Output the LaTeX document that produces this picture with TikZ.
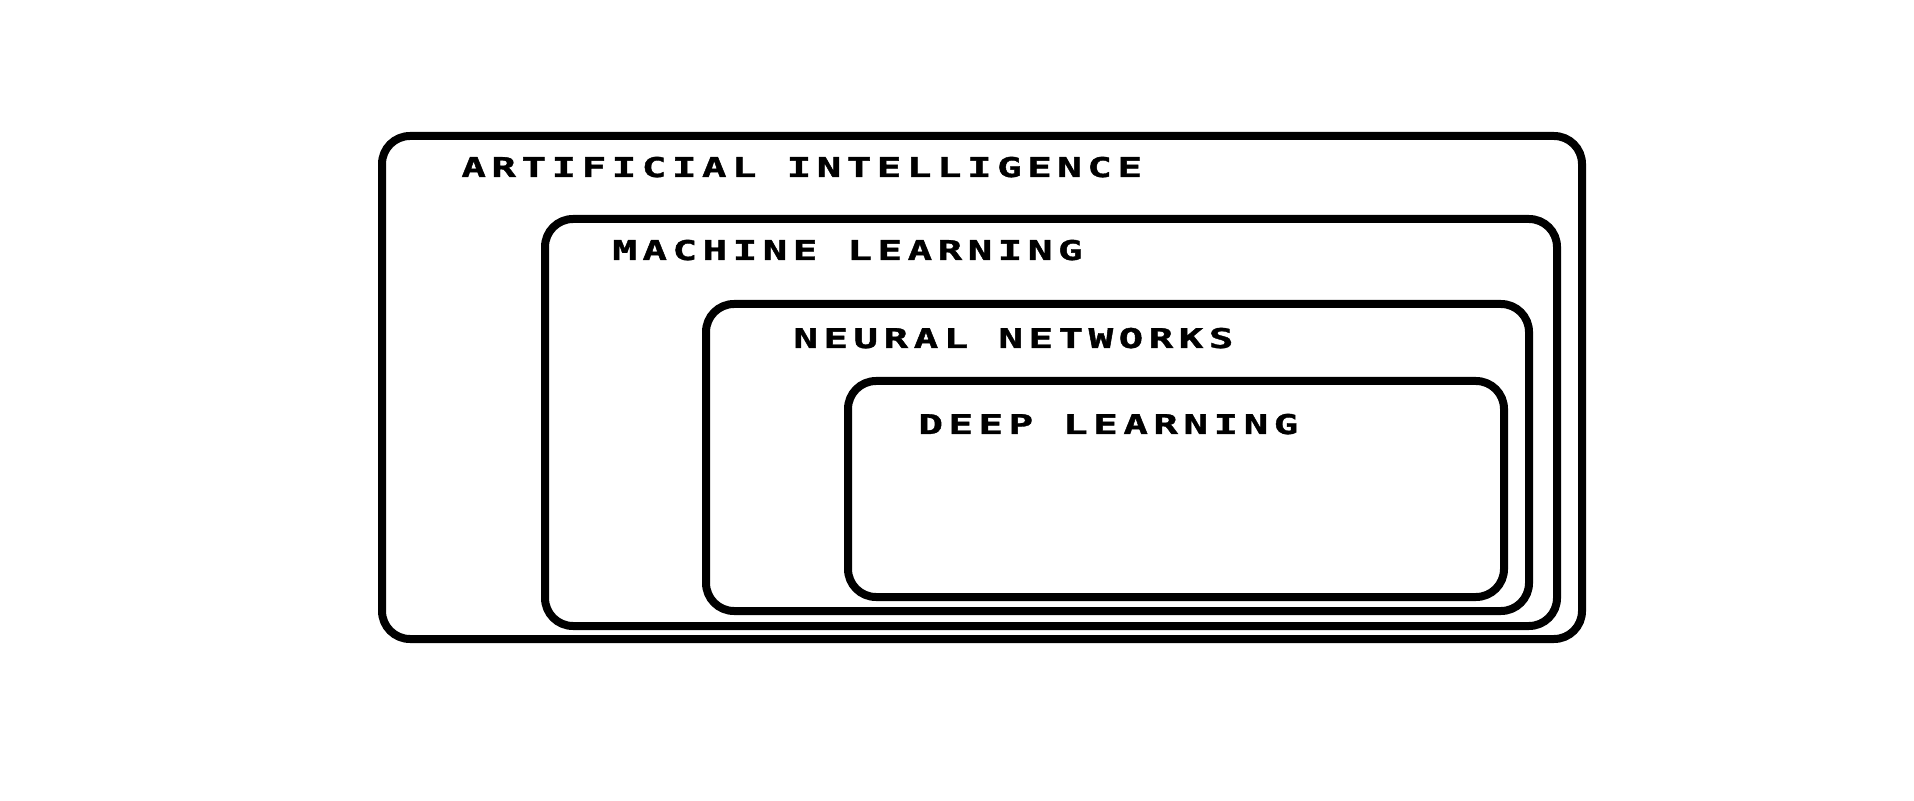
\documentclass[tikz,border=0pt]{standalone}
\usepackage{fontspec}
\usepackage{graphicx}
\newfontfamily\layerfont[LetterSpace=13.5,BoldFeatures={FakeBold=1.2}]{DejaVu Sans Mono}
\newcommand{\layertext}[1]{\scalebox{1.5}[1]{#1}}
\tikzset{layer/.style={line width=4pt,rounded corners=14pt},
  layername/.style={anchor=base west,inner sep=0pt,font=\layerfont\bfseries\fontsize{13.6}{14}\selectfont}}
\begin{document}
\begin{tikzpicture}[x=0.5pt,y=-0.5pt]
   \useasboundingbox (0,0) rectangle (1914,801);
   \draw [layer] (382,136) rectangle (1582,639);
   \draw [layer] (545,219) rectangle (1557,626);
   \draw [layer] (706,304) rectangle (1529,611);
   \draw [layer] (848,381) rectangle (1504,597);
   \node [layername] (ai) at (461,177) {\layertext{ARTIFICIAL INTELLIGENCE}};
   \node [layername] (ml) at (612,260) {\layertext{MACHINE LEARNING}};
   \node [layername] (nn) at (793,348) {\layertext{NEURAL NETWORKS}};
   \node [layername] (dl) at (918,434) {\layertext{DEEP LEARNING}};
\end{tikzpicture}
\end{document}
